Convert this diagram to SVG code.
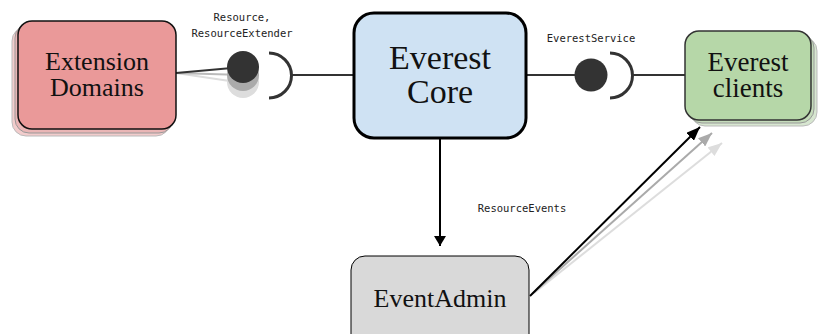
<svg xmlns="http://www.w3.org/2000/svg" width="819" height="334" viewBox="0 0 819 334">
<defs>
<style>
.lbl{font-family:"DejaVu Sans Mono",monospace;font-size:10.5px;fill:#222;text-anchor:middle}
.big{font-family:"Liberation Serif","DejaVu Serif",serif;fill:#111;text-anchor:middle}
.conn{stroke:#333;stroke-width:2;fill:none}
.sock{stroke:#333;stroke-width:3;fill:none}
</style>
<marker id="ahB" markerUnits="userSpaceOnUse" markerWidth="14" markerHeight="11" refX="14" refY="5.5" orient="auto"><path d="M0,0 L14,5.5 L0,11 z" fill="#000"/></marker>
<marker id="ahG" markerUnits="userSpaceOnUse" markerWidth="14" markerHeight="11" refX="14" refY="5.5" orient="auto"><path d="M0,0 L14,5.5 L0,11 z" fill="#aaa"/></marker>
<marker id="ahL" markerUnits="userSpaceOnUse" markerWidth="14" markerHeight="11" refX="14" refY="5.5" orient="auto"><path d="M0,0 L14,5.5 L0,11 z" fill="#ddd"/></marker>
<marker id="ahD" markerUnits="userSpaceOnUse" markerWidth="10" markerHeight="12" refX="10" refY="6" orient="auto"><path d="M0,0 L10,6 L0,12 z" fill="#000"/></marker>
</defs>
<rect width="819" height="334" fill="#fff"/>

<g id="connectors">
<line class="conn" x1="176" y1="73" x2="243" y2="83" stroke="#ddd" style="stroke:#ddd"/>
<line class="conn" x1="176" y1="73" x2="243" y2="75" style="stroke:#bbb"/>
<circle cx="243" cy="82" r="16" fill="#ddd"/>
<circle cx="243" cy="75" r="16" fill="#aaa"/>
<line class="conn" x1="176" y1="73" x2="243" y2="67"/>
<circle cx="243" cy="67" r="16" fill="#333"/>
<path class="sock" d="M269,53 A22.5,22.5 0 0 1 269,98"/>
<line class="conn" x1="291" y1="75" x2="353" y2="75"/>
<line class="conn" x1="527" y1="75" x2="591" y2="75"/>
<circle cx="591" cy="75" r="16.5" fill="#333"/>
<path class="sock" d="M610,53 A22.5,22.5 0 0 1 610,98"/>
<line class="conn" x1="632" y1="75" x2="685" y2="75"/>
<line x1="440" y1="139" x2="440" y2="246" stroke="#000" stroke-width="2" marker-end="url(#ahD)"/>
<line x1="534" y1="293" x2="722" y2="143" stroke="#ddd" stroke-width="2" marker-end="url(#ahL)"/>
<line x1="532" y1="294" x2="712" y2="133" stroke="#aaa" stroke-width="2" marker-end="url(#ahG)"/>
<line x1="530" y1="296" x2="700" y2="127" stroke="#000" stroke-width="2" marker-end="url(#ahB)"/>
<text class="lbl" x="242" y="21">Resource,</text>
<text class="lbl" x="242" y="37">ResourceExtender</text>
<text class="lbl" x="591" y="42">EverestService</text>
<text class="lbl" x="522" y="212">ResourceEvents</text>
</g>

<g id="extension-domains">
<rect x="12" y="27" width="158" height="109" rx="14" fill="#f2cccc" stroke="#bbb" stroke-width="1"/>
<rect x="15" y="24" width="158" height="109" rx="14" fill="#eab6b6" stroke="#999" stroke-width="1"/>
<rect x="18" y="21" width="158" height="108" rx="14" fill="#ea9999" stroke="#111" stroke-width="1.5"/>
<text class="big" x="97" y="70" font-size="26">Extension</text>
<text class="big" x="97" y="96" font-size="26">Domains</text>
</g>

<g id="everest-core">
<rect x="354" y="13" width="172" height="125" rx="20" fill="#cfe2f3" stroke="#000" stroke-width="3"/>
<text class="big" x="440" y="69" font-size="34">Everest</text>
<text class="big" x="440" y="103" font-size="34">Core</text>
</g>

<g id="everest-clients">
<rect x="691" y="37" width="126" height="89" rx="14" fill="#d7e6d0" stroke="#bbb" stroke-width="1"/>
<rect x="688" y="34" width="126" height="89" rx="14" fill="#c5dcbb" stroke="#999" stroke-width="1"/>
<rect x="685" y="31" width="126" height="89" rx="14" fill="#b6d7a8" stroke="#333" stroke-width="1.5"/>
<text class="big" x="748" y="71" font-size="27">Everest</text>
<text class="big" x="748" y="97" font-size="27">clients</text>
</g>

<g id="event-admin">
<rect x="351" y="256" width="178" height="100" rx="14" fill="#d9d9d9" stroke="#000" stroke-width="1"/>
<text class="big" x="440" y="307" font-size="26">EventAdmin</text>
</g>
</svg>
